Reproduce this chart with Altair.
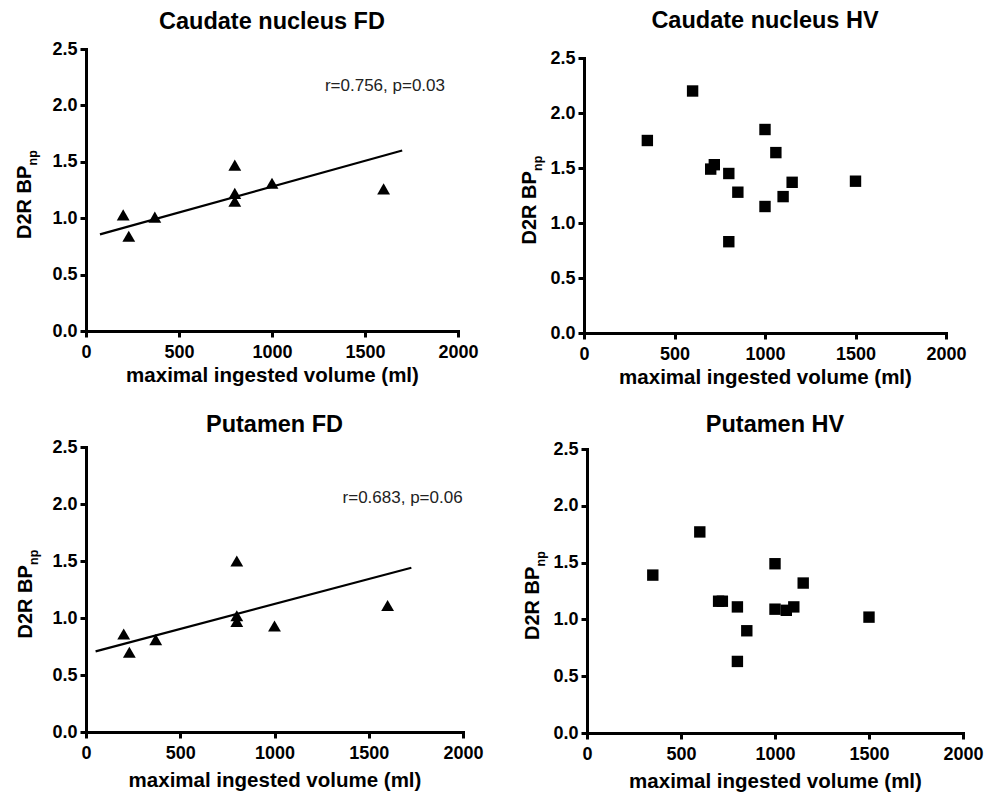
import altair as alt
import pandas as pd

FONT = "Liberation Sans"

X_TICKS = [0, 500, 1000, 1500, 2000]
Y_TICKS = [0.0, 0.5, 1.0, 1.5, 2.0, 2.5]
X_TITLE = "maximal ingested volume (ml)"
Y_MAIN = "D2R BP"
Y_SUB = "np"

# Caudate nucleus FD
cfd_x = [200, 230, 370, 800, 800, 800, 1000, 1600]
cfd_y = [1.03, 0.84, 1.01, 1.47, 1.22, 1.15, 1.31, 1.26]
cfd_fit_x = [75, 1700]
cfd_fit_y = [0.857, 1.60]
cfd_note = "r=0.756, p=0.03"
cfd_note_x = [1930]
cfd_note_y = [2.17]

# Caudate nucleus HV
chv_x = [350, 600, 1000, 1060, 720, 700, 800, 850, 1150, 1500, 1100, 1000, 800]
chv_y = [1.75, 2.20, 1.85, 1.64, 1.53, 1.49, 1.45, 1.28, 1.37, 1.38, 1.24, 1.15, 0.83]

# Putamen FD
pfd_x = [200, 230, 370, 800, 800, 800, 1000, 1600]
pfd_y = [0.86, 0.70, 0.81, 1.50, 1.02, 0.97, 0.93, 1.11]
pfd_fit_x = [51, 1726]
pfd_fit_y = [0.707, 1.441]
pfd_note = "r=0.683, p=0.06"
pfd_note_x = [1998]
pfd_note_y = [2.055]

# Putamen HV
phv_x = [350, 600, 1000, 1150, 700, 720, 800, 1000, 1060, 1100, 1500, 850, 800]
phv_y = [1.39, 1.77, 1.49, 1.32, 1.16, 1.16, 1.11, 1.09, 1.08, 1.11, 1.02, 0.90, 0.63]


def panel(title, xs, ys, shape, size, w, h, top, title_base, ytitle_x, xtitle_pad,
          fit_x=None, fit_y=None, note=None, note_x=None, note_y=None):
    # top: gap between group top and the y-scale's upper end
    xsc = alt.Scale(domain=[0, 2000], nice=False, zero=False)
    ysc = alt.Scale(domain=[0, 2.5], nice=False, zero=False, range=[h, top])
    xax = alt.Axis(values=X_TICKS, title=X_TITLE, format="d", labelFlush=False,
                   titlePadding=xtitle_pad)
    yax = alt.Axis(values=Y_TICKS, title=None, format=".1f", labelFlush=False)
    df = pd.DataFrame({"x": xs, "y": ys})
    pts = alt.Chart(df).mark_point(
        shape=shape, filled=True, size=size, color="black", opacity=1
    ).encode(
        x=alt.X("x:Q", scale=xsc, axis=xax),
        y=alt.Y("y:Q", scale=ysc, axis=yax),
    )
    layers = [pts]
    if fit_x is not None:
        fdf = pd.DataFrame({"x": fit_x, "y": fit_y})
        layers.append(
            alt.Chart(fdf).mark_line(color="black", strokeWidth=2.2).encode(
                x="x:Q", y="y:Q"
            )
        )
    if note is not None:
        ndf = pd.DataFrame({"x": note_x, "y": note_y, "t": [note]})
        layers.append(
            alt.Chart(ndf).mark_text(
                align="right", baseline="middle", font=FONT, fontSize=17,
                color="#222222"
            ).encode(x="x:Q", y="y:Q", text="t:N")
        )
    mid = top + (h - top) / 2
    tdf = pd.DataFrame({"t": [Y_MAIN]})
    layers.append(
        alt.Chart(tdf).mark_text(
            angle=270, align="left", baseline="alphabetic", font=FONT,
            fontSize=20, fontWeight="bold", color="black"
        ).encode(x=alt.value(ytitle_x), y=alt.value(mid + 49), text="t:N")
    )
    sdf = pd.DataFrame({"t": [Y_SUB]})
    layers.append(
        alt.Chart(sdf).mark_text(
            angle=270, align="left", baseline="alphabetic", font=FONT,
            fontSize=12.5, fontWeight="bold", color="black"
        ).encode(x=alt.value(ytitle_x + 5.5), y=alt.value(mid + 49 - 73.5), text="t:N")
    )
    ttdf = pd.DataFrame({"t": [title]})
    layers.append(
        alt.Chart(ttdf).mark_text(
            align="center", baseline="alphabetic", font=FONT,
            fontSize=23.5, fontWeight="bold", color="black"
        ).encode(x=alt.value(w / 2), y=alt.value(title_base), text="t:N")
    )
    return alt.layer(*layers).properties(width=w, height=h)


p1 = panel("Caudate nucleus FD", cfd_x, cfd_y, "triangle-up", 165, 372, 282, 0, -20, -55, 4,
           cfd_fit_x, cfd_fit_y, cfd_note, cfd_note_x, cfd_note_y)
p2 = panel("Caudate nucleus HV", chv_x, chv_y, "square", 130, 362, 284, 9, -21, -48, 4)
p3 = panel("Putamen FD", pfd_x, pfd_y, "triangle-up", 165, 377, 285, 0, -15, -54, 8,
           pfd_fit_x, pfd_fit_y, pfd_note, pfd_note_x, pfd_note_y)
p4 = panel("Putamen HV", phv_x, phv_y, "square", 130, 376, 286, 2, -15, -48, 8)

chart = alt.vconcat(
    alt.hconcat(p1, p2, spacing=41),
    alt.hconcat(p3, p4, spacing=39),
    spacing=25,
).properties(
    padding={"left": 7, "top": 1, "right": 5, "bottom": 5},
).configure_view(stroke=None).configure_axis(
    grid=False,
    domainColor="black", domainWidth=3, domainCap="square",
    tickColor="black", tickWidth=3, tickSize=6,
    labelFont=FONT, labelFontSize=18, labelFontWeight="bold", labelColor="black",
    labelPadding=3,
    titleFont=FONT, titleFontSize=20.5, titleFontWeight="bold", titleColor="black",
).configure_axisX(labelPadding=6)

chart.save("out.html", embed_options={"renderer": "svg", "actions": False})
